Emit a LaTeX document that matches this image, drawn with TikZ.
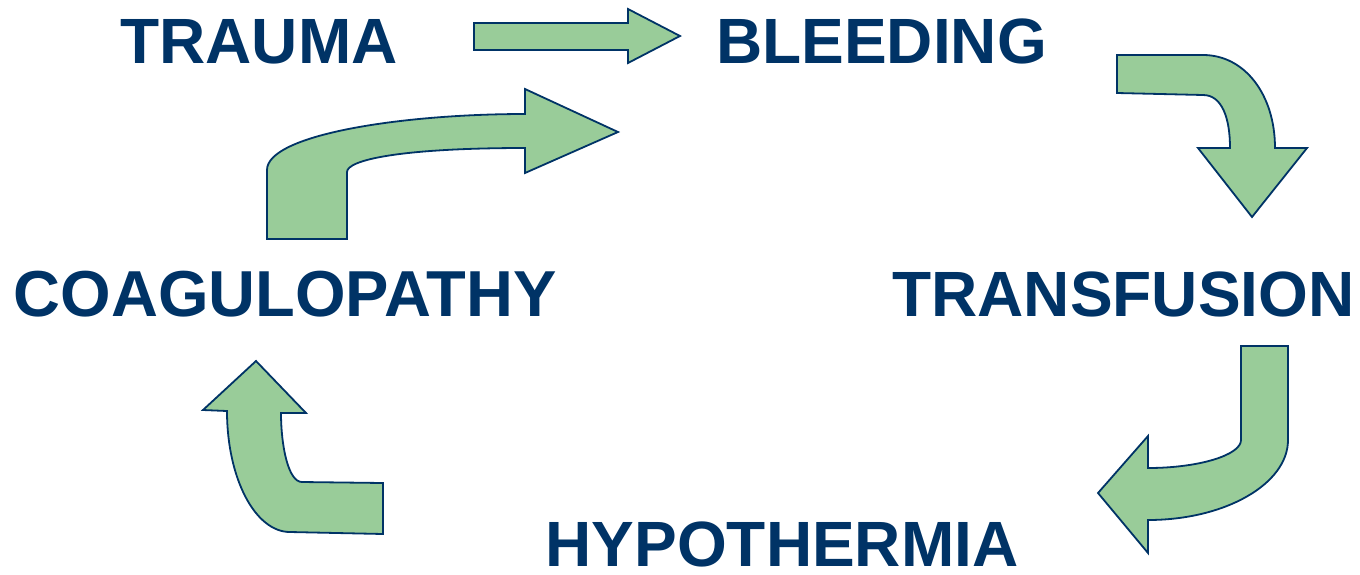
\documentclass[tikz,border=0pt]{standalone}
\usepackage{fontspec}
\setmainfont{Liberation Sans}
\definecolor{navy}{RGB}{0,51,102}
\definecolor{leaf}{RGB}{153,204,153}
\begin{document}
\begin{tikzpicture}[x=1pt,y=-1pt,
  lbl/.style={anchor=base,inner sep=0pt,text=navy,font=\fontsize{64}{64}\selectfont\bfseries},
  blockarrow/.style={fill=leaf,draw=navy,line width=1.8pt,line join=miter}]
\useasboundingbox (0,0) rectangle (1360,574);
% labels
\node[lbl] (trauma) at (259,63) {TRAUMA};
\node[lbl] (bleeding) at (881.5,63) {BLEEDING};
\node[lbl] (transfusion) at (1123.5,316) {TRANSFUSION};
\node[lbl,font=\fontsize{65}{65}\selectfont\bfseries] (coag) at (285,316) {COAGULOPATHY};
\node[lbl] (hypo) at (782,566) {HYPOTHERMIA};
% straight arrow TRAUMA -> BLEEDING
\draw[blockarrow] (474,23) -- (628,23) -- (628,9) -- (680,36) -- (628,63) -- (628,50) -- (474,50) -- cycle;
% BLEEDING -> TRANSFUSION
\draw[blockarrow] (1117,55) -- (1203,55) .. controls (1245,55) and (1275,95) .. (1275,148)
  -- (1307,148) -- (1252,217) -- (1198,148) -- (1230,148)
  .. controls (1230,118) and (1222,95) .. (1203,95) -- (1117,93) -- cycle;
% TRANSFUSION -> HYPOTHERMIA
\draw[blockarrow] (1241,346) -- (1288,346) -- (1288,440)
  .. controls (1288,484) and (1225,520) .. (1148,520)
  -- (1148,553) -- (1098,493) -- (1148,436) -- (1148,468)
  .. controls (1199,468) and (1241,455) .. (1241,440) -- cycle;
% HYPOTHERMIA -> COAGULOPATHY
\draw[blockarrow] (383,483) -- (383,534) -- (290,532)
  .. controls (255,532) and (227,478) .. (227,411)
  -- (203,410) -- (256,361) -- (306,413) -- (281,413)
  .. controls (281,445) and (288,482) .. (302,482) -- cycle;
% COAGULOPATHY -> BLEEDING
\draw[blockarrow] (267,239) -- (347,239) -- (347,172)
  .. controls (347,160) and (400,148) .. (525,148)
  -- (525,173) -- (618,132) -- (525,89) -- (525,114)
  .. controls (400,114) and (267,135) .. (267,170) -- cycle;
\end{tikzpicture}
\end{document}
